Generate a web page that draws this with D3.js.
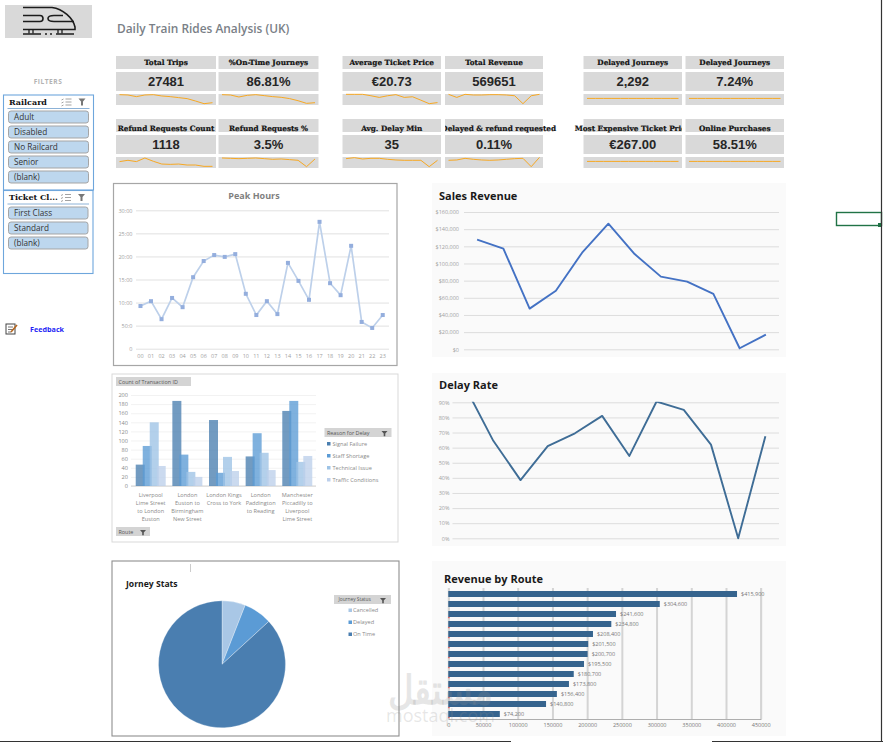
<!DOCTYPE html>
<html>
<head>
<meta charset="utf-8">
<title>Daily Train Rides Analysis (UK)</title>
<script src="https://cdn.jsdelivr.net/npm/d3@7/dist/d3.min.js"></script>
<style>
html,body{margin:0;padding:0;background:#fff;overflow:hidden}
svg{display:block}
text{font-family:"Open Sans",sans-serif}
.kpi-head{font-family:"DejaVu Serif",serif;font-weight:700;font-size:7.3px;fill:#111;stroke:#111;stroke-width:0.2;text-anchor:middle}
.kpi-val{font-family:"Liberation Sans",sans-serif;font-weight:700;font-size:13px;fill:#262626;text-anchor:middle}
.tick{font-size:5.5px;fill:#a0a0a0}
.lbl{font-size:5.6px;fill:#8a8a8a}
.btn{font-size:5.4px;fill:#555}
.chart-title{font-weight:700;font-size:11px;fill:#1a1a1a}
.slicer-head{font-family:"DejaVu Serif",serif;font-weight:700;font-size:8px;fill:#111}
.slicer-item{font-family:"Open Sans",sans-serif;font-size:8.2px;fill:#333}
</style>
</head>
<body>
<svg id="board" width="883" height="742"></svg>
<script>
// KPI cards, one row per line of cards
const kpiRow1Heads = ["Total Trips", "%On-Time Journeys", "Average Ticket Price", "Total Revenue", "Delayed Journeys", "Delayed Journeys"];
const kpiRow1Values = ["27481", "86.81%", "€20.73", "569651", "2,292", "7.24%"];
const kpiRow2Heads = ["Refund Requests Count", "Refund Requests %", "Avg. Delay Min", "Delayed & refund requested", "Most Expensive Ticket Price", "Online Purchases"];
const kpiRow2Values = ["1118", "3.5%", "35", "0.11%", "€267.00", "58.51%"];

// Monthly sparkline shapes shown under each KPI (index 0-100)
const sparkTotalTrips = [94,91,76,91,94,82,76,67,58,36,12,21];
const sparkOnTime = [94,91,73,88,94,85,76,70,58,39,15,21];
const sparkAvgPrice = [97,97,97,84,69,84,94,69,75,44,12,22];
const sparkRevenue = [97,69,97,91,91,94,94,91,84,12,84,97];
const sparkDelayed = [60,60,60,60,60,60,60,60,60,60,60,60];
const sparkDelayedPct = [60,60,60,60,60,60,60,60,60,60,60,60];
const sparkRefundCount = [58,70,58,91,61,36,33,36,27,27,15,15];
const sparkRefundPct = [91,88,85,88,91,85,79,82,76,70,12,82];
const sparkAvgDelay = [85,94,82,88,88,79,73,70,70,70,12,70];
const sparkDelayRefund = [70,73,88,79,73,70,73,79,85,88,12,97];
const sparkMaxPrice = [60,60,60,60,60,60,60,60,60,60,60,60];
const sparkOnline = [60,60,60,60,60,60,60,60,60,60,60,60];

// Slicers
const railcards = ["Adult", "Disabled", "No Railcard", "Senior", "(blank)"];
const ticketClasses = ["First Class", "Standard", "(blank)"];

// Peak hours
const hours = ["00","01","02","03","04","05","06","07","08","09","10","11","12","13","14","15","16","17","18","19","20","21","22","23"];
const hourValues = [9.25,10.3,6.4,11,9,15.5,19,20.3,19.9,20.5,11.9,7.3,10.3,7.5,18.6,14.7,10.6,27.5,14.2,11.6,22.3,5.8,4.5,7.3];
const hourTicks = [0,5,10,15,20,25,30];
const hourTickLabels = ["0","50:0","10:00","15:00","20:00","25:00","30:00"];

// Monthly revenue and delay rate
const months = ["Jan","Feb","Mar","Apr","May","Jun","Jul","Aug","Sep","Oct","Nov","Dec"];
const salesRevenue = [127800,117300,47400,68300,112600,146400,111000,84700,78800,64500,1200,17100];
const delayRate = [0.99,0.645,0.385,0.61,0.695,0.81,0.545,0.905,0.85,0.62,0,0.675];

// Delay reasons per route
const routes = [
  ["Liverpool","Lime Street","to London","Euston"],
  ["London","Euston to","Birmingham","New Street"],
  ["London Kings","Cross to York"],
  ["London","Paddington","to Reading"],
  ["Manchester","Piccadilly to","Liverpool","Lime Street"]
];
const reasons = ["Signal Failure","Staff Shortage","Technical Issue","Traffic Conditions"];
const signalFailure = [47,187,145,65,165];
const staffShortage = [88,69,29,116,187];
const technicalIssue = [140,31,64,73,53];
const trafficConditions = [44,20,33,35,66];
const reasonColors = ["#4a7fb0","#5b9bd5","#9dc3e6","#bccfeb"];

// Journey status
const statuses = ["Cancelled","Delayed","On Time"];
const statusShare = [5.95,7.24,86.81];
const statusColors = ["#a9c7e6","#5b9bd5","#4a7eb0"];

// Revenue by route
const routeRevenue = [415900,304600,241600,234800,208400,201500,200700,195500,180700,173800,156400,140800,74200];
const routeLabels = ["$415,900","$304,600","$241,600","$234,800","$208,400","$201,500","$200,700","$195,500","$180,700","$173,800","$156,400","$140,800","$74,200"];
const revenueTicks = [0,50000,100000,150000,200000,250000,300000,350000,400000,450000];

const svg = d3.select("#board");
const defs = svg.append("defs");

function rect(g,x,y,w,h,fill,stroke,sw){
  return g.append("rect").attr("x",x).attr("y",y).attr("width",w).attr("height",h)
    .attr("fill",fill).attr("stroke",stroke||"none").attr("stroke-width",sw||0);
}
function clip(id,x,y,w,h){
  defs.append("clipPath").attr("id",id).append("rect").attr("x",x).attr("y",y).attr("width",w).attr("height",h);
}

/* ---------- header ---------- */
rect(svg,5,5,87,33,"#d9d9d9");
const train = svg.append("g").attr("fill","none").attr("stroke","#1c1c1c").attr("stroke-width",1.6);
train.append("path").attr("d","M23 7.5H52C63 9 73 18 75 27V29.5H23");
train.append("path").attr("d","M23 15.5H40C44 15.5 44 21.5 40 21.5H23");
train.append("path").attr("d","M63 15.5H54C46 15.5 46 21.5 54 21.5H74");
svg.append("path").attr("d","M29 29.5V33.5M33 29.5V33.5M58 29.5V33.5M62 29.5V33.5").attr("stroke","#1c1c1c").attr("stroke-width",1.3);
svg.append("path").attr("d","M23 34H74").attr("stroke","#1c1c1c").attr("stroke-width",1.3).attr("stroke-dasharray","18 4 2 3 2 4 18");
svg.append("text").attr("x",117).attr("y",33).attr("font-size",11.9).attr("font-weight",600).attr("fill","#7a7f87").text("Daily Train Rides Analysis (UK)");

/* ---------- KPI cards ---------- */
const cardXs = [[116,100],[218.5,100],[342.5,98.5],[445,98],[583.5,98.5],[685.5,98.5]];
const row1Sparks = [sparkTotalTrips,sparkOnTime,sparkAvgPrice,sparkRevenue,sparkDelayed,sparkDelayedPct];
const row2Sparks = [sparkRefundCount,sparkRefundPct,sparkAvgDelay,sparkDelayRefund,sparkMaxPrice,sparkOnline];
const sparkX = d3.scalePoint().domain(d3.range(12));
const sparkY = d3.scaleLinear().domain([0,100]);

function cardRow(top,heads,values,sparks,rowId){
  const g = svg.append("g");
  cardXs.forEach(([x,w],i)=>{
    rect(g,x,top,w,13,"#d9d9d9");
    rect(g,x,top+16,w,19,"#d9d9d9");
    rect(g,x,top+38,w,11,"#d9d9d9");
    // long headings overflow their card to the right, and are cut by the card on its left
    const clipLeft = rowId==="r2" && i===3 ? x : 0;
    const clipRight = rowId==="r2" && i===4 ? x+w : 883;
    const id = "head-"+rowId+"-"+i;
    clip(id,clipLeft,top-2,clipRight-clipLeft,17);
    let cx = x+w/2;
    if(rowId==="r2"&&i===3) cx = 498.7;
    if(rowId==="r2"&&i===4) cx = 632.5;
    g.append("g").attr("clip-path","url(#"+id+")")
      .append("text").attr("class","kpi-head").attr("x",cx).attr("y",top+ (rowId==="r1"?9.2:12)).text(heads[i]);
    g.append("text").attr("class","kpi-val").attr("x",x+w/2).attr("y",top+30.3).text(values[i]);
    const sx = sparkX.copy().range([x+3.5,x+w-3.5]);
    const sy = sparkY.copy().range([top+49,top+38]);
    const line = d3.line().x((d,k)=>sx(k)).y(d=>sy(d));
    g.append("path").attr("d",line(sparks[i])).attr("fill","none").attr("stroke","#f7a823").attr("stroke-width",1);
  });
}
cardRow(56,kpiRow1Heads,kpiRow1Values,row1Sparks,"r1");
cardRow(119,kpiRow2Heads,kpiRow2Values,row2Sparks,"r2");

/* ---------- filters ---------- */
svg.append("text").attr("x",48).attr("y",84).attr("text-anchor","middle").attr("font-size",6.6).attr("font-weight",700).attr("fill","#b3b3b3").attr("letter-spacing",0.5).text("FILTERS");

function slicer(x,y,w,h,title,items,itemTop){
  const g = svg.append("g");
  rect(g,x,y,w,h,"#fff","#6ea6dc",1.1);
  g.append("text").attr("class","slicer-head").attr("x",x+5.5).attr("y",y+9.5).text(title);
  g.append("line").attr("x1",x+4).attr("x2",x+w-4).attr("y1",y+13.5).attr("y2",y+13.5).attr("stroke","#7fa9d3").attr("stroke-width",0.9);
  // multi-select and clear-filter icons
  const ix = x+w-32;
  g.append("path").attr("d",`M${ix+4} ${y+4}h6M${ix+4} ${y+7}h6M${ix+4} ${y+10}h6M${ix} ${y+5}l2 -1M${ix} ${y+8}l2 -1M${ix} ${y+11}l2 -1`).attr("stroke","#8a8a8a").attr("stroke-width",0.8);
  g.append("path").attr("d",`M${ix+17} ${y+3.5}h7l-2.5 3v4h-2v-4z`).attr("fill","#777");
  items.forEach((t,i)=>{
    const yy = itemTop+i*15;
    g.append("rect").attr("x",x+5).attr("y",yy).attr("width",w-10).attr("height",12).attr("rx",2.5)
      .attr("fill","#bdd7ee").attr("stroke","#a5a5a5").attr("stroke-width",1);
    g.append("text").attr("class","slicer-item").attr("x",x+10.5).attr("y",yy+8.8).text(t);
  });
}
slicer(3.5,95,90,95,"Railcard",railcards,111);
slicer(3.5,190.5,89.5,83,"Ticket Cl...",ticketClasses,207);

// feedback link
const fb = svg.append("g");
rect(fb,6,324,9,10,"#fff","#444",1);
fb.append("path").attr("d","M8 327h5M8 329.5h5M8 332h3").attr("stroke","#555").attr("stroke-width",0.8);
fb.append("path").attr("d","M11 332l6 -7").attr("stroke","#b5651d").attr("stroke-width",1.6);
fb.append("text").attr("x",30).attr("y",331.5).attr("font-family","'DejaVu Sans',sans-serif").attr("font-size",7.2).attr("font-weight",700).attr("fill","#1f1ff5").text("Feedback");

/* ---------- peak hours ---------- */
{
  const g = svg.append("g");
  rect(g,113.5,183.5,283.5,182,"#fff","#a6a6a6",1.2);
  g.append("text").attr("x",254).attr("y",199).attr("text-anchor","middle").attr("font-size",9).attr("font-weight",700).attr("fill","#7f7f7f").text("Peak Hours");
  const x = d3.scaleBand().domain(hours).range([135.2,388]);
  const y = d3.scaleLinear().domain([0,30]).range([348.7,210.3]);
  const yAxis = d3.axisLeft(y).tickValues(hourTicks).tickSize(-(389-136)).tickPadding(3.5).tickFormat((d,i)=>hourTickLabels[i]);
  const ga = g.append("g").attr("transform","translate(136,0)").call(yAxis);
  ga.select(".domain").remove();
  ga.selectAll("line").attr("stroke","#d9d9d9").attr("stroke-width",0.8);
  ga.selectAll("text").attr("class","tick").attr("fill",null);
  const xa = g.append("g").attr("transform","translate(0,348.7)").call(d3.axisBottom(x).tickSize(0).tickPadding(5));
  xa.select(".domain").remove();
  xa.selectAll("text").attr("class","tick").attr("fill",null);
  const cx = d=>x(d)+x.bandwidth()/2;
  const line = d3.line().x((d,i)=>cx(hours[i])).y(d=>y(d));
  g.append("path").attr("d",line(hourValues)).attr("fill","none").attr("stroke","#bdd0ea").attr("stroke-width",1.7);
  g.selectAll(".pt").data(hourValues).join("rect")
    .attr("x",(d,i)=>cx(hours[i])-2).attr("y",d=>y(d)-2).attr("width",4).attr("height",4)
    .attr("fill","#94aedd");
}

/* ---------- sales revenue and delay rate lines ---------- */
function monthLine(opts){
  const g = svg.append("g");
  rect(g,432,opts.panelTop,354,opts.panelH,"#fafafa");
  g.append("text").attr("class","chart-title").attr("x",439).attr("y",opts.titleY).text(opts.title);
  const x = d3.scaleBand().domain(months).range([opts.left,779]);
  const y = d3.scaleLinear().domain(opts.domain).range([opts.bottom,opts.top]);
  const ga = g.append("g").attr("transform",`translate(${opts.left},0)`)
    .call(d3.axisLeft(y).tickValues(opts.ticks).tickSize(-(779-opts.left)).tickPadding(opts.pad).tickFormat(opts.fmt));
  ga.select(".domain").remove();
  ga.selectAll("line").attr("stroke","#d9d9d9").attr("stroke-width",0.9);
  ga.selectAll("text").attr("class","tick").attr("fill",null);
  const id = "clip-"+opts.title.replace(/\s/g,"");
  clip(id,opts.left,opts.top-0.5,779-opts.left,opts.bottom-opts.top+2);
  const line = d3.line().x((d,i)=>x(months[i])+x.bandwidth()/2).y(d=>y(d));
  g.append("path").attr("clip-path",`url(#${id})`).attr("d",line(opts.values)).attr("fill","none")
    .attr("stroke",opts.color).attr("stroke-width",1.9).attr("stroke-linejoin","round");
}
monthLine({title:"Sales Revenue",panelTop:183,panelH:174,titleY:200,left:464,bottom:349.3,top:212,
  domain:[0,160000],ticks:d3.range(0,160001,20000),fmt:d3.format("$,.0f"),values:salesRevenue,color:"#4472c4",pad:5});
monthLine({title:"Delay Rate",panelTop:373,panelH:173,titleY:389,left:452.5,bottom:538.3,top:402.3,
  domain:[0,0.9],ticks:d3.range(0,10).map(i=>i/10),fmt:d3.format(".0%"),values:delayRate,color:"#3f6d96",pad:3});

/* ---------- delay reasons by route ---------- */
{
  const g = svg.append("g");
  rect(g,112,374,286,168,"#fff","#d9d9d9",1);
  const fieldBtn = (x,y,w,h,label,arrow)=>{
    rect(g,x,y,w,h,"#d4d4d4");
    g.append("text").attr("class","btn").attr("x",x+2.5).attr("y",y+6.6).text(label);
    if(arrow) g.append("path").attr("d",`M${x+w-10} ${y+3}h6l-2.2 2.6v2.6h-1.6v-2.6z`).attr("fill","#555");
  };
  fieldBtn(116,377,75,9,"Count of Transaction ID",false);
  fieldBtn(116,527,34,9,"Route",true);
  fieldBtn(324.5,428,67,9,"Reason for Delay",true);
  const series = [signalFailure,staffShortage,technicalIssue,trafficConditions];
  const x = d3.scaleBand().domain(d3.range(routes.length)).range([132.4,315.6]);
  const y = d3.scaleLinear().domain([0,200]).range([486,395]);
  const ga = g.append("g").attr("transform","translate(131,0)")
    .call(d3.axisLeft(y).tickValues(d3.range(0,201,20)).tickSize(-185).tickPadding(3));
  ga.select(".domain").remove();
  ga.selectAll("line").attr("stroke","#ececec").attr("stroke-width",0.7);
  ga.selectAll("text").attr("class","lbl").attr("fill",null);
  g.append("line").attr("x1",131).attr("x2",316).attr("y1",486).attr("y2",486).attr("stroke","#c8c8c8").attr("stroke-width",0.8);
  const offset = d3.scaleBand().domain(d3.range(4)).range([0,28]);
  const barW = 9;
  series.forEach((vals,s)=>{
    g.append("g").selectAll("rect").data(vals).join("rect")
      .attr("x",(d,i)=>x(i)+x.bandwidth()/2-15+offset(s))
      .attr("y",d=>y(d)).attr("width",barW).attr("height",d=>y(0)-y(d))
      .attr("fill",reasonColors[s]).attr("fill-opacity",0.78);
  });
  routes.forEach((lines,i)=>{
    lines.forEach((t,k)=>{
      g.append("text").attr("class","lbl").attr("text-anchor","middle")
        .attr("x",x(i)+x.bandwidth()/2).attr("y",497+k*8).text(t);
    });
  });
  reasons.forEach((r,i)=>{
    rect(g,327,442+i*12,3.5,3.5,reasonColors[i]);
    g.append("text").attr("class","lbl").attr("x",332.5).attr("y",446+i*12).text(r);
  });
}

/* ---------- journey status pie ---------- */
{
  const g = svg.append("g");
  rect(g,112,561,287,175,"#fff","#8f8f8f",1.1);
  g.append("line").attr("x1",190.5).attr("x2",190.5).attr("y1",564).attr("y2",572).attr("stroke","#ccc").attr("stroke-width",1);
  g.append("text").attr("x",126).attr("y",587).attr("font-size",8.6).attr("font-weight",700).attr("fill","#1a1a1a").text("Jorney Stats");
  const pie = d3.pie().sort(null)(statusShare);
  const arc = d3.arc().innerRadius(0).outerRadius(63.5);
  g.append("g").attr("transform","translate(222,664.3)").selectAll("path").data(pie).join("path")
    .attr("d",arc).attr("fill",(d,i)=>statusColors[i]).attr("stroke","#fff").attr("stroke-width",0.3);
  rect(g,334,595,57,9,"#d4d4d4");
  g.append("text").attr("class","btn").attr("x",338.5).attr("y",601.3).style("font-size","4.8px").text("Journey Status");
  g.append("path").attr("d","M380 598h6l-2.2 2.6v2.6h-1.6v-2.6z").attr("fill","#555");
  statuses.forEach((s,i)=>{
    rect(g,348.5,608.5+i*12,3.5,3.5,statusColors[i]);
    g.append("text").attr("class","lbl").attr("x",353).attr("y",612+i*12).text(s);
  });
}

/* ---------- revenue by route ---------- */
{
  const g = svg.append("g");
  rect(g,432,561,354,175,"#fafafa");
  g.append("text").attr("class","chart-title").attr("x",444).attr("y",583).text("Revenue by Route");
  const x = d3.scaleLinear().domain([0,450000]).range([448.3,760.7]);
  const y = d3.scaleBand().domain(d3.range(routeRevenue.length)).range([589,719]).paddingInner(0.4).paddingOuter(0.2);
  const ga = g.append("g").attr("transform","translate(0,719)")
    .call(d3.axisBottom(x).tickValues(revenueTicks).tickSize(-131).tickPadding(4).tickFormat(d3.format("d")));
  ga.select(".domain").attr("stroke","#9a9a9a").attr("stroke-width",0.8);
  ga.selectAll(".tick line").attr("stroke","#d4d4d4").attr("stroke-width",2);
  ga.selectAll("text").attr("class","tick").style("fill","#777");
  g.selectAll(".bar").data(routeRevenue).join("rect")
    .attr("x",x(0)).attr("y",(d,i)=>y(i)).attr("width",d=>x(d)-x(0)).attr("height",y.bandwidth()).attr("fill","#36648e");
  g.selectAll(".val").data(routeRevenue).join("text")
    .attr("class","tick").style("fill","#777")
    .attr("x",d=>x(d)+4).attr("y",(d,i)=>y(i)+y.bandwidth()/2+2).text((d,i)=>routeLabels[i]);
  // hidden category labels leave a small red tick by each lower bar
  g.selectAll(".mark").data(routeRevenue.slice(2)).join("rect")
    .attr("x",x(0)).attr("y",(d,i)=>y(i+2)+y.bandwidth()).attr("width",1.2).attr("height",1.2).attr("fill","#e04040");
}

/* ---------- selected cell and window edges ---------- */
rect(svg,836.5,212.5,45,13,"none","#217346",1.4);
rect(svg,878,223,4,4,"#217346");
svg.append("line").attr("x1",881.5).attr("x2",881.5).attr("y1",0).attr("y2",742).attr("stroke","#333").attr("stroke-width",1.2);
svg.append("path").attr("d","M0 741.5H511M712 741.5H883").attr("stroke","#333").attr("stroke-width",1.2);

/* ---------- site mark ---------- */
const wm = svg.append("g").attr("pointer-events","none");
wm.append("text").attr("x",440.5).attr("y",704).attr("text-anchor","middle").attr("font-family","'DejaVu Sans',sans-serif")
  .attr("font-size",40).attr("font-weight",700).attr("fill","#8f8f8f").attr("fill-opacity",0.22)
  .attr("textLength",105).attr("lengthAdjust","spacingAndGlyphs").text("مستقل");
wm.append("text").attr("x",440.5).attr("y",722).attr("text-anchor","middle").attr("font-family","'Open Sans',sans-serif")
  .attr("font-size",18).attr("fill","#8f8f8f").attr("fill-opacity",0.22).text("mostaql.com");
</script>
</body>
</html>
